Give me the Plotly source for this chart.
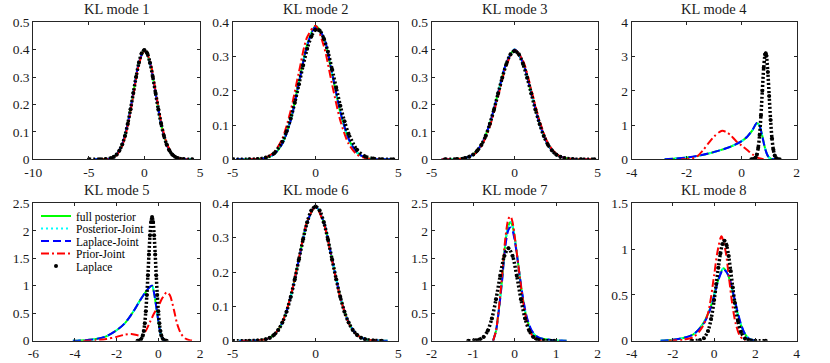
import plotly.graph_objects as go

# ---- KL mode 1 ----
x_post_1 = [-4.5, -3.5, -3, -2.5, -2, -1.5, -1, -0.5, 0, 0.5, 1, 1.5, 2, 2.5, 3, 3.5, 4.3]
full_1 = [0, 0.001, 0.004, 0.018, 0.054, 0.13, 0.242, 0.352, 0.399, 0.352, 0.242, 0.13, 0.054, 0.018, 0.004, 0.001, 0]
pjoint_1 = full_1
ljoint_1 = full_1
x_prior_1 = [-4, -3, -2.5, -2, -1.5, -1, -0.5, 0, 0.5, 1, 1.5, 2, 2.5, 3, 4]
prior_1 = [0, 0.003, 0.015, 0.049, 0.122, 0.233, 0.346, 0.398, 0.358, 0.25, 0.138, 0.059, 0.02, 0.005, 0]
x_lap_1 = [-5, -4, -3.5, -3, -2.75, -2.5, -2.25, -2, -1.75, -1.5, -1.25, -1, -0.75, -0.5, -0.25, 0,
           0.25, 0.5, 0.75, 1, 1.25, 1.5, 1.75, 2, 2.25, 2.5, 2.75, 3, 3.5, 4.3]
lap_1 = [0, 0.0001, 0.0009, 0.0044, 0.0091, 0.0175, 0.032, 0.054, 0.086, 0.13, 0.183, 0.242, 0.301, 0.352, 0.387, 0.399,
         0.387, 0.352, 0.301, 0.242, 0.183, 0.13, 0.086, 0.054, 0.032, 0.0175, 0.0091, 0.0044, 0.0009, 0]

# ---- KL mode 2 ----
x_post_2 = [-4.8, -4, -3.5, -3, -2.5, -2, -1.5, -1, -0.5, 0, 0.5, 1, 1.5, 2, 2.5, 3, 3.5, 4, 4.7]
full_2 = [0, 0.0001, 0.0007, 0.004, 0.015, 0.047, 0.115, 0.225, 0.335, 0.389, 0.355, 0.25, 0.137, 0.059, 0.02, 0.005, 0.001, 0, 0]
pjoint_2 = full_2
ljoint_2 = [0, 0.0001, 0.0007, 0.004, 0.015, 0.046, 0.113, 0.222, 0.332, 0.386, 0.356, 0.252, 0.139, 0.06, 0.02, 0.005, 0.001, 0, 0]
x_prior_2 = [-4, -3.5, -3, -2.5, -2, -1.5, -1, -0.5, 0, 0.5, 1, 1.5, 2, 2.5, 3, 3.5, 4]
prior_2 = [0.0002, 0.0011, 0.0054, 0.021, 0.061, 0.142, 0.255, 0.357, 0.39, 0.331, 0.219, 0.113, 0.045, 0.0142, 0.0035, 0.0007, 0]
x_lap_2 = [-5, -4, -3.5, -3, -2.5, -2, -1.75, -1.5, -1.25, -1, -0.75, -0.5, -0.25, 0, 0.25, 0.5,
           0.75, 1, 1.25, 1.5, 1.75, 2, 2.5, 3, 3.5, 4, 4.7]
lap_2 = [0, 0.0002, 0.001, 0.0049, 0.0176, 0.0514, 0.081, 0.119, 0.166, 0.219, 0.274, 0.323, 0.359, 0.378, 0.376, 0.353,
         0.314, 0.263, 0.209, 0.156, 0.111, 0.074, 0.028, 0.0084, 0.002, 0.0004, 0]

# ---- KL mode 3 ----
x_post_3 = [-4.4, -3.5, -3, -2.5, -2, -1.5, -1, -0.5, 0, 0.5, 1, 1.5, 2, 2.5, 3, 3.5, 4.6]
full_3 = [0, 0.0009, 0.0044, 0.0175, 0.054, 0.13, 0.242, 0.352, 0.401, 0.352, 0.242, 0.13, 0.054, 0.0175, 0.0044, 0.0009, 0]
pjoint_3 = full_3
ljoint_3 = full_3
x_prior_3 = [-4.4, -3.5, -3, -2.5, -2, -1.5, -1, -0.5, 0, 0.5, 1, 1.5, 2, 2.5, 3, 3.5, 4.6]
prior_3 = [0, 0.0007, 0.0037, 0.0154, 0.049, 0.12, 0.23, 0.343, 0.398, 0.36, 0.254, 0.14, 0.06, 0.02, 0.0051, 0.001, 0]
x_lap_3 = [-4.2, -3.5, -3, -2.75, -2.5, -2.25, -2, -1.75, -1.5, -1.25, -1, -0.75, -0.5, -0.25, 0,
           0.25, 0.5, 0.75, 1, 1.25, 1.5, 1.75, 2, 2.25, 2.5, 2.75, 3, 3.5, 4, 4.8]
lap_3 = [0, 0.0009, 0.0044, 0.009, 0.0173, 0.0317, 0.0535, 0.085, 0.129, 0.181, 0.24, 0.298, 0.348, 0.383, 0.395,
         0.383, 0.348, 0.298, 0.24, 0.181, 0.129, 0.085, 0.0535, 0.0317, 0.0173, 0.009, 0.0044, 0.0009, 0.0001, 0]

# ---- KL mode 4 ----
x_post_4 = [-2.8, -2.4, -2.0, -1.6, -1.2, -0.8, -0.4, 0, 0.2, 0.4, 0.55, 0.65, 0.75, 0.85, 0.95, 1.05, 1.25]
full_4 = [0, 0.02, 0.05, 0.1, 0.17, 0.26, 0.37, 0.53, 0.66, 0.86, 1.05, 0.98, 0.68, 0.32, 0.1, 0.02, 0]
pjoint_4 = full_4
ljoint_4 = [0, 0.02, 0.05, 0.1, 0.17, 0.26, 0.37, 0.53, 0.66, 0.87, 1.06, 0.97, 0.66, 0.31, 0.1, 0.02, 0]
x_prior_4 = [-2.2, -1.8, -1.6, -1.4, -1.2, -1.0, -0.8, -0.7, -0.55, -0.4, -0.2, 0, 0.2, 0.4, 0.6, 0.8]
prior_4 = [0, 0.02, 0.1, 0.27, 0.48, 0.67, 0.8, 0.83, 0.79, 0.7, 0.53, 0.4, 0.27, 0.14, 0.04, 0]
x_lap_4 = [0.35, 0.45, 0.5, 0.55, 0.6, 0.65, 0.7, 0.75, 0.8, 0.85, 0.875, 0.9, 0.95, 1.0, 1.05, 1.1,
           1.15, 1.2, 1.25, 1.3, 1.38]
lap_4 = [0.001, 0.014, 0.047, 0.136, 0.335, 0.708, 1.28, 2.0, 2.67, 3.06, 3.1, 3.02, 2.55, 1.85, 1.15, 0.617,
         0.283, 0.112, 0.038, 0.011, 0]

# ---- KL mode 5 ----
x_post_5 = [-4.1, -3.5, -3.0, -2.5, -2.0, -1.6, -1.2, -0.9, -0.6, -0.4, -0.3, -0.2, -0.1, 0, 0.1, 0.2, 0.3]
full_5 = [0, 0.01, 0.03, 0.08, 0.19, 0.32, 0.53, 0.72, 0.89, 0.98, 1.0, 0.86, 0.62, 0.36, 0.14, 0.04, 0]
pjoint_5 = full_5
ljoint_5 = full_5
x_prior_5 = [-3.6, -3.0, -2.5, -2.0, -1.6, -1.3, -1.0, -0.8, -0.6, -0.4, -0.2, 0, 0.2, 0.4, 0.55, 0.75,
             0.9, 1.1, 1.3, 1.5, 1.7]
prior_5 = [0, 0.01, 0.03, 0.07, 0.11, 0.12, 0.1, 0.09, 0.18, 0.34, 0.5, 0.63, 0.78, 0.88, 0.83, 0.56,
           0.31, 0.12, 0.04, 0.01, 0]
x_lap_5 = [-1.0, -0.85, -0.75, -0.7, -0.65, -0.6, -0.55, -0.5, -0.45, -0.4, -0.35, -0.3, -0.25, -0.2,
           -0.15, -0.1, -0.05, 0, 0.05, 0.1, 0.15, 0.25, 0.4]
lap_5 = [0.001, 0.018, 0.089, 0.176, 0.319, 0.535, 0.83, 1.19, 1.57, 1.92, 2.16, 2.25, 2.16, 1.92,
         1.57, 1.19, 0.83, 0.535, 0.319, 0.176, 0.089, 0.018, 0]

# ---- KL mode 6 ----
x_post_6 = [-4.6, -3.5, -3, -2.5, -2, -1.5, -1, -0.5, 0, 0.5, 1, 1.5, 2, 2.5, 3, 3.5, 4.35]
full_6 = [0, 0.0009, 0.0043, 0.017, 0.053, 0.127, 0.237, 0.345, 0.391, 0.345, 0.237, 0.127, 0.053, 0.017, 0.0043, 0.0009, 0]
pjoint_6 = full_6
ljoint_6 = full_6
x_prior_6 = [-4.5, -3.5, -3, -2.5, -2, -1.5, -1, -0.5, 0, 0.5, 1, 1.5, 2, 2.5, 3, 3.5, 4.2]
prior_6 = [0, 0.0009, 0.0043, 0.017, 0.054, 0.129, 0.24, 0.347, 0.39, 0.342, 0.234, 0.125, 0.052, 0.017, 0.0042, 0.0008, 0]
x_lap_6 = [-5, -4, -3.5, -3, -2.75, -2.5, -2.25, -2, -1.75, -1.5, -1.25, -1, -0.75, -0.5, -0.25, 0,
           0.25, 0.5, 0.75, 1, 1.25, 1.5, 1.75, 2, 2.25, 2.5, 2.75, 3, 3.5, 4.0]
lap_6 = [0, 0.0001, 0.0009, 0.0043, 0.0089, 0.0171, 0.0313, 0.0528, 0.084, 0.127, 0.179, 0.237, 0.295, 0.345, 0.379, 0.391,
         0.379, 0.345, 0.295, 0.237, 0.179, 0.127, 0.084, 0.0528, 0.0313, 0.0171, 0.0089, 0.0043, 0.0009, 0]

# ---- KL mode 7 ----
x_post_7 = [-0.52, -0.45, -0.4, -0.35, -0.3, -0.25, -0.2, -0.15, -0.1, -0.05, 0, 0.05, 0.1, 0.15, 0.2,
            0.25, 0.3, 0.4, 0.5, 0.6, 0.8, 1.0, 1.25]
full_7 = [0, 0.18, 0.45, 0.78, 1.15, 1.6, 1.92, 2.1, 2.16, 2.08, 1.88, 1.6, 1.3, 1.0, 0.75,
          0.54, 0.38, 0.18, 0.09, 0.05, 0.02, 0.005, 0]
pjoint_7 = full_7
ljoint_7 = [0, 0.18, 0.44, 0.76, 1.12, 1.55, 1.85, 2.02, 2.06, 2.0, 1.82, 1.58, 1.3, 1.02, 0.78,
            0.57, 0.41, 0.2, 0.1, 0.05, 0.02, 0.005, 0]
x_prior_7 = [-0.52, -0.45, -0.4, -0.35, -0.3, -0.25, -0.2, -0.15, -0.1, -0.05, 0, 0.05, 0.1, 0.15,
             0.2, 0.25, 0.3, 0.35, 0.4, 0.5, 0.65]
prior_7 = [0, 0.18, 0.46, 0.82, 1.22, 1.68, 2.02, 2.22, 2.26, 2.15, 1.9, 1.6, 1.3, 1.0,
           0.72, 0.5, 0.32, 0.2, 0.12, 0.03, 0]
x_lap_7 = [-1.12, -0.95, -0.85, -0.75, -0.65, -0.55, -0.45, -0.35, -0.25, -0.15, -0.05, 0.05, 0.15,
           0.25, 0.35, 0.45, 0.55, 0.7, 0.95]
lap_7 = [0, 0.006, 0.022, 0.068, 0.181, 0.404, 0.754, 1.18, 1.54, 1.68, 1.54, 1.18, 0.754,
         0.404, 0.181, 0.068, 0.022, 0.003, 0]

# ---- KL mode 8 ----
x_post_8 = [-2.6, -2.0, -1.5, -1.0, -0.5, -0.2, 0, 0.2, 0.45, 0.7, 0.9, 1.1, 1.3, 1.5, 1.7, 2.0]
full_8 = [0, 0.01, 0.03, 0.07, 0.2, 0.35, 0.5, 0.67, 0.79, 0.7, 0.52, 0.33, 0.17, 0.07, 0.02, 0]
pjoint_8 = full_8
ljoint_8 = [0, 0.01, 0.03, 0.07, 0.19, 0.34, 0.49, 0.66, 0.78, 0.71, 0.54, 0.35, 0.18, 0.07, 0.02, 0]
x_prior_8 = [-2.2, -1.5, -1.0, -0.6, -0.3, 0, 0.15, 0.35, 0.55, 0.7, 0.9, 1.05, 1.25, 1.5]
prior_8 = [0, 0.01, 0.04, 0.14, 0.3, 0.72, 0.96, 1.14, 0.98, 0.72, 0.36, 0.18, 0.05, 0]
x_lap_8 = [-1.1, -0.7, -0.5, -0.3, -0.15, 0, 0.1, 0.2, 0.3, 0.4, 0.5, 0.6, 0.7, 0.8, 0.9, 1.0,
           1.15, 1.3, 1.5, 1.7, 2.0, 2.5]
lap_8 = [0, 0.006, 0.028, 0.106, 0.236, 0.445, 0.618, 0.797, 0.953, 1.057, 1.09, 1.042, 0.924, 0.761, 0.582, 0.413,
         0.215, 0.094, 0.024, 0.005, 0, 0]

panels = [
    (x_post_1, full_1, pjoint_1, ljoint_1, x_prior_1, prior_1, x_lap_1, lap_1),
    (x_post_2, full_2, pjoint_2, ljoint_2, x_prior_2, prior_2, x_lap_2, lap_2),
    (x_post_3, full_3, pjoint_3, ljoint_3, x_prior_3, prior_3, x_lap_3, lap_3),
    (x_post_4, full_4, pjoint_4, ljoint_4, x_prior_4, prior_4, x_lap_4, lap_4),
    (x_post_5, full_5, pjoint_5, ljoint_5, x_prior_5, prior_5, x_lap_5, lap_5),
    (x_post_6, full_6, pjoint_6, ljoint_6, x_prior_6, prior_6, x_lap_6, lap_6),
    (x_post_7, full_7, pjoint_7, ljoint_7, x_prior_7, prior_7, x_lap_7, lap_7),
    (x_post_8, full_8, pjoint_8, ljoint_8, x_prior_8, prior_8, x_lap_8, lap_8),
]

titles = ["KL mode 1", "KL mode 2", "KL mode 3", "KL mode 4",
          "KL mode 5", "KL mode 6", "KL mode 7", "KL mode 8"]
x_ranges = [[-10, 5], [-5, 5], [-5, 5], [-4, 2], [-6, 2], [-5, 5], [-2, 2], [-4, 4]]
y_ranges = [[0, 0.5], [0, 0.4], [0, 0.5], [0, 4], [0, 2.5], [0, 0.4], [0, 2.5], [0, 1.5]]
x_ticks = [[-10, -5, 0, 5], [-5, 0, 5], [-5, 0, 5], [-4, -2, 0, 2],
           [-6, -4, -2, 0, 2], [-5, 0, 5], [-2, -1, 0, 1, 2], [-4, -2, 0, 2, 4]]
y_ticks = [[0, 0.1, 0.2, 0.3, 0.4, 0.5], [0, 0.1, 0.2, 0.3, 0.4], [0, 0.1, 0.2, 0.3, 0.4, 0.5],
           [0, 1, 2, 3, 4], [0, 0.5, 1, 1.5, 2, 2.5], [0, 0.1, 0.2, 0.3, 0.4],
           [0, 0.5, 1, 1.5, 2, 2.5], [0, 0.5, 1, 1.5]]
names = ["full posterior", "Posterior-Joint", "Laplace-Joint", "Prior-Joint", "Laplace"]

W, H = 830, 363
FONT = "Liberation Serif"
AX = "#262626"
cols_px = [(33.3, 200.0), (232.7, 398.3), (431.7, 597.7), (631.7, 796.7)]
rows_px = [(22.3, 159.3), (203.3, 340.7)]

styles = [
    dict(color="#00ff00", width=2),
    dict(color="#00ffff", width=2, dash="2px,3px"),
    dict(color="#0000ff", width=2, dash="8px,4px"),
    dict(color="#ff0000", width=2, dash="8px,3px,2px,3px"),
]

fig = go.Figure()
layout = {}
annotations = []

for k, p in enumerate(panels):
    n = k + 1
    sfx = "" if n == 1 else str(n)
    xa, ya = "x" + sfx, "y" + sfx
    show = n == 5
    xp, full, pj, lj, xr, prior, xl, lap = p
    curves = [(xp, full), (xp, pj), (xp, lj), (xr, prior)]
    for j, (xx, yy) in enumerate(curves):
        fig.add_trace(go.Scatter(
            x=xx, y=yy, mode="lines", name=names[j],
            line=dict(shape="spline", smoothing=0.8, **styles[j]),
            showlegend=show, legend="legend" if j == 0 else f"legend{j + 1}",
            xaxis=xa, yaxis=ya,
        ))
    # dotted black line gives the dense Laplace dots
    fig.add_trace(go.Scatter(
        x=xl, y=lap, mode="lines", showlegend=False,
        line=dict(color="black", width=3.5, dash="2px,2px", shape="spline", smoothing=0.8),
        xaxis=xa, yaxis=ya,
    ))
    fig.add_trace(go.Scatter(
        x=xl, y=lap, mode="markers", name=names[4],
        marker=dict(color="black", size=4),
        showlegend=show, legend="legend5",
        xaxis=xa, yaxis=ya,
    ))

    r, c = divmod(k, 4)
    x0, x1 = cols_px[c]
    y0, y1 = rows_px[r]
    layout["xaxis" + sfx] = dict(
        domain=[x0 / W, x1 / W], range=x_ranges[k], anchor=ya,
        tickvals=x_ticks[k], ticktext=[f"{v:g}" for v in x_ticks[k]],
        ticks="inside", ticklen=3, tickcolor=AX, showline=True, linecolor=AX,
        linewidth=1, mirror="ticks", showgrid=False, zeroline=False,
        tickfont=dict(family=FONT, size=13.5, color="#1a1a1a"),
    )
    layout["yaxis" + sfx] = dict(
        domain=[(H - y1) / H, (H - y0) / H], range=y_ranges[k], anchor=xa,
        tickvals=y_ticks[k], ticktext=[f"{v:g}" for v in y_ticks[k]],
        ticks="inside", ticklen=3, tickcolor=AX, showline=True, linecolor=AX,
        linewidth=1, mirror="ticks", showgrid=False, zeroline=False,
        tickfont=dict(family=FONT, size=13.5, color="#1a1a1a"),
    )
    annotations.append(dict(
        text=titles[k], x=(x0 + x1) / 2 / W, y=(H - (y0 - 13)) / H,
        xref="paper", yref="paper", xanchor="center", yanchor="middle",
        showarrow=False, font=dict(family=FONT, size=14.5, color="#1a1a1a"),
    ))

legend_rows = [216, 228.5, 241, 253.5, 266]
for i, yy in enumerate(legend_rows):
    key = "legend" if i == 0 else f"legend{i + 1}"
    layout[key] = dict(
        x=36 / W, y=(H - yy) / H, xanchor="left", yanchor="middle",
        bgcolor="rgba(0,0,0,0)", borderwidth=0,
        font=dict(family=FONT, size=11.5, color="black"),
    )

fig.update_layout(
    width=W, height=H,
    margin=dict(l=0, r=0, t=0, b=0, autoexpand=False),
    paper_bgcolor="white", plot_bgcolor="white",
    annotations=annotations,
    **layout,
)

# drop the browser's default 8px page margin so the figure sits at the window corner
fig.write_html(
    "out.html",
    config={"displayModeBar": False},
    post_script="document.body.style.margin='0';document.body.style.overflow='hidden';",
)
